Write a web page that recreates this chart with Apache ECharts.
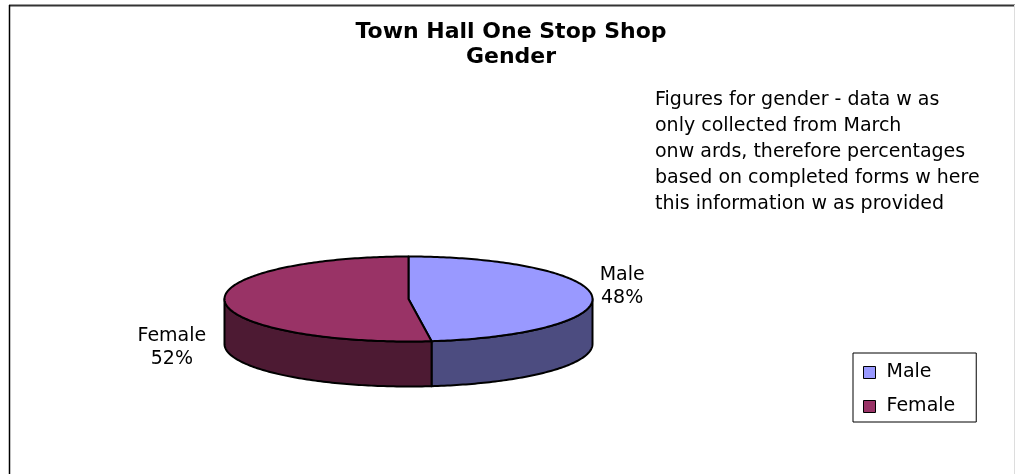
<!DOCTYPE html>
<html>
<head>
<meta charset="utf-8">
<script src="https://cdn.jsdelivr.net/npm/echarts@6/dist/echarts.min.js"></script>
<style>
  html, body { margin: 0; padding: 0; background: #fff; }
  #chart { width: 1015px; height: 474px; }
</style>
</head>
<body>
<div id="chart"></div>
<script>
// ---- data ----
const categories = ['Male', 'Female'];
const shares = [48, 52];
const titleLines = ['Town Hall One Stop Shop', 'Gender'];
const noteLines = [
  'Figures for gender - data w as',
  'only collected from March',
  'onw ards, therefore percentages',
  'based on completed forms w here',
  'this information w as provided'
];

// ---- styles ----
const topColors = ['#9999FF', '#993366'];
const sideColors = ['#4C4C80', '#4D1A33'];
const FONT = '"DejaVu Sans", "Liberation Sans", sans-serif';

// projected (tilted) pie geometry
const PIE = { cx: 408.5, cy: 299, rx: 184, ry: 42.5, depth: 45 };
// label block offsets from the rim point at each slice's mid angle
const labelNudge = [[30, -10], [-53, 46]];

const total = shares.reduce((a, b) => a + b, 0);

// angle measured clockwise from 12 o'clock
function rimPoint(theta, dy) {
  return [PIE.cx + PIE.rx * Math.sin(theta), PIE.cy - PIE.ry * Math.cos(theta) + (dy || 0)];
}
function rimArc(a0, a1, dy) {
  const n = Math.max(2, Math.ceil(Math.abs(a1 - a0) / (Math.PI / 180)));
  const pts = [];
  for (let k = 0; k <= n; k++) pts.push(rimPoint(a0 + (a1 - a0) * k / n, dy));
  return pts;
}

function sliceSeries(i) {
  return {
    type: 'custom',
    name: categories[i],
    coordinateSystem: 'none',
    itemStyle: { color: topColors[i] },
    data: [shares[i]],
    renderItem: function (params, api) {
      const value = api.value(0);
      const before = shares.slice(0, i).reduce((a, b) => a + b, 0);
      const a0 = before / total * 2 * Math.PI;
      const a1 = (before + value) / total * 2 * Math.PI;
      const children = [];

      // front wall: only the part of the rim facing the viewer
      const s0 = Math.max(a0, Math.PI / 2);
      const s1 = Math.min(a1, 1.5 * Math.PI);
      if (s1 > s0) {
        const pts = rimArc(s0, s1, 0).concat(rimArc(s1, s0, PIE.depth));
        children.push({
          type: 'polygon', z2: 1,
          shape: { points: pts },
          style: { fill: sideColors[i], stroke: '#000', lineWidth: 2, lineJoin: 'round' }
        });
      }

      // top face
      children.push({
        type: 'polygon', z2: 5,
        shape: { points: [[PIE.cx, PIE.cy]].concat(rimArc(a0, a1, 0)) },
        style: { fill: topColors[i], stroke: '#000', lineWidth: 2, lineJoin: 'round' }
      });

      // category + percentage label
      const anchor = rimPoint((a0 + a1) / 2, 0);
      children.push({
        type: 'text', z2: 10,
        style: {
          x: anchor[0] + labelNudge[i][0],
          y: anchor[1] + labelNudge[i][1],
          text: categories[i] + '\n' + Math.round(value / total * 100) + '%',
          fill: '#000',
          fontSize: 19,
          fontFamily: FONT,
          align: 'center',
          verticalAlign: 'middle',
          lineHeight: 23
        }
      });
      return { type: 'group', children: children };
    }
  };
}

const chart = echarts.init(document.getElementById('chart'), null, { renderer: 'canvas' });
chart.setOption({
  animation: false,
  backgroundColor: '#fff',
  legend: {
    orient: 'vertical',
    left: 853,
    top: 353,
    data: categories,
    icon: 'rect',
    itemWidth: 12,
    itemHeight: 12,
    itemGap: 15,
    padding: [10, 21, 6, 10],
    borderColor: '#000',
    borderWidth: 1,
    selectedMode: false,
    itemStyle: { borderColor: '#000', borderWidth: 1 },
    formatter: function (n) { return ' ' + n; },
    textStyle: { fontSize: 19, fontFamily: FONT, color: '#000' }
  },
  graphic: [
    { type: 'line', silent: true, shape: { x1: 9, y1: 5.5, x2: 1015, y2: 5.5 }, style: { stroke: '#333', lineWidth: 2 } },
    { type: 'line', silent: true, shape: { x1: 9.5, y1: 5, x2: 9.5, y2: 474 }, style: { stroke: '#000', lineWidth: 1.5 } },
    { type: 'line', silent: true, shape: { x1: 1014.5, y1: 5, x2: 1014.5, y2: 474 }, style: { stroke: '#ddd', lineWidth: 1 } },
    {
      type: 'text', silent: true,
      style: {
        x: 511, y: 45,
        text: titleLines.join('\n'),
        fill: '#000',
        fontSize: 22, fontWeight: 'bold', fontFamily: FONT,
        align: 'center', verticalAlign: 'middle', lineHeight: 25
      }
    },
    {
      type: 'text', silent: true,
      style: {
        x: 655, y: 87,
        text: noteLines.join('\n'),
        fill: '#000',
        fontSize: 19, fontFamily: FONT,
        align: 'left', verticalAlign: 'top', lineHeight: 26
      }
    }
  ],
  series: categories.map((c, i) => sliceSeries(i))
});
</script>
</body>
</html>
